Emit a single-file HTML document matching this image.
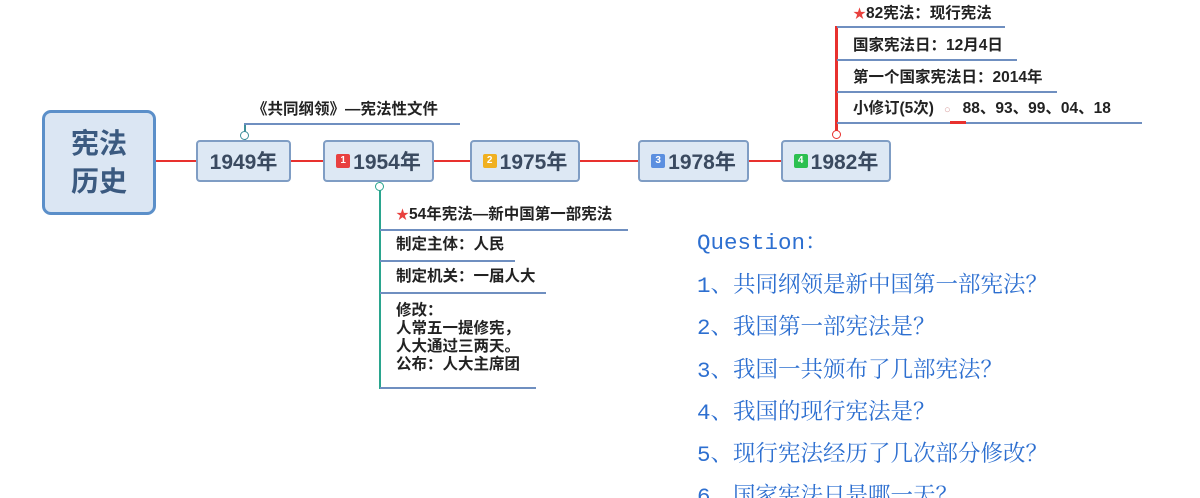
<!DOCTYPE html>
<html><head><meta charset="utf-8"><style>
html,body{margin:0;width:1200px;height:498px;overflow:hidden;background:#fff}
body{position:relative;font-family:"Liberation Sans","Noto Sans CJK SC",sans-serif}
div{position:absolute;box-sizing:border-box}
.n{background:#dde8f4;border:2px solid #7f9dc4;border-radius:4px;color:#3a4a60;font-weight:bold;font-size:21px;display:flex;align-items:center;justify-content:center;height:42px;top:140px}
.r{background:#e8312e;height:2px;top:160px}
.t{font-size:15.5px;font-weight:bold;color:#222;white-space:nowrap;line-height:18px}
.u{height:2px;background:#6f8fc0}
.b{display:inline-block;width:14px;height:14px;border-radius:2px;color:#fff;font-size:10px;line-height:14px;text-align:center;margin-right:3px;vertical-align:2px}
.q{left:697px;font-family:"Liberation Mono","Noto Serif CJK SC",serif;color:#2d6fd0;font-size:22.5px;line-height:26px;white-space:nowrap}
.star{color:#e8413e;font-size:13px}
</style></head><body>
<div style="left:42px;top:110px;width:114px;height:105px;background:#dbe6f3;border:3px solid #5b8fc9;border-radius:9px;color:#3b5a80;font-size:28px;font-weight:bold;line-height:38px;text-align:center;padding-top:12px">宪法<br>历史</div>
<div class="r" style="left:156px;width:40px"></div>
<div class="r" style="left:290px;width:34px"></div>
<div class="r" style="left:433px;width:37px"></div>
<div class="r" style="left:580px;width:58px"></div>
<div class="r" style="left:748px;width:33px"></div>
<div class="n" style="left:196px;width:95px">1949年</div>
<div class="n" style="left:323px;width:111px"><span class="b" style="background:#e84040">1</span>1954年</div>
<div class="n" style="left:470px;width:110px"><span class="b" style="background:#f0b020">2</span>1975年</div>
<div class="n" style="left:638px;width:111px"><span class="b" style="background:#5b8fe0">3</span>1978年</div>
<div class="n" style="left:781px;width:110px"><span class="b" style="background:#2cc050">4</span>1982年</div>

<div style="left:244px;top:124px;width:2px;height:16px;background:#3f8f9a"></div>
<div style="left:244px;top:123px;width:216px;height:2px;background:#6f8fc0"></div>
<div style="left:240px;top:131px;width:9px;height:9px;border:1px solid #3f8f9a;border-radius:50%;background:#fff"></div>
<div class="t" style="left:252px;top:101px">《共同纲领》—宪法性文件</div>

<div style="left:379px;top:186px;width:2px;height:203px;background:#2aa58e"></div>
<div style="left:375px;top:182px;width:9px;height:9px;border:1px solid #2aa58e;border-radius:50%;background:#fff"></div>
<div class="t" style="left:396px;top:206px"><span class="star">★</span>54年宪法—新中国第一部宪法</div>
<div class="u" style="left:380px;top:229px;width:248px"></div>
<div class="t" style="left:396px;top:236px">制定主体：人民</div>
<div class="u" style="left:380px;top:260px;width:135px"></div>
<div class="t" style="left:396px;top:268px">制定机关：一届人大</div>
<div class="u" style="left:380px;top:292px;width:166px"></div>
<div class="t" style="left:396px;top:302px">修改：<br>人常五一提修宪，<br>人大通过三两天。<br>公布：人大主席团</div>
<div class="u" style="left:380px;top:387px;width:156px"></div>

<div style="left:835px;top:26px;width:3px;height:108px;background:#e8312e"></div>
<div style="left:832px;top:130px;width:9px;height:9px;border:1px solid #e8312e;border-radius:50%;background:#fff"></div>
<div class="t" style="left:853px;top:5px"><span class="star">★</span>82宪法：现行宪法</div>
<div class="u" style="left:837px;top:26px;width:168px"></div>
<div class="t" style="left:853px;top:37px">国家宪法日：12月4日</div>
<div class="u" style="left:837px;top:59px;width:180px"></div>
<div class="t" style="left:853px;top:69px">第一个国家宪法日：2014年</div>
<div class="u" style="left:837px;top:91px;width:220px"></div>
<div class="t" style="left:853px;top:100px">小修订(5次)<span style="color:#d8a0a0;font-size:11px;margin:0 12px 0 10px">○</span>88、93、99、04、18</div>
<div class="u" style="left:837px;top:122px;width:305px"></div>
<div style="left:950px;top:121px;width:16px;height:3px;background:#e8312e"></div>

<div class="q" style="top:230px">Question：</div>
<div class="q" style="top:273px">1、共同纲领是新中国第一部宪法？</div>
<div class="q" style="top:315px">2、我国第一部宪法是？</div>
<div class="q" style="top:358px">3、我国一共颁布了几部宪法？</div>
<div class="q" style="top:400px">4、我国的现行宪法是？</div>
<div class="q" style="top:442px">5、现行宪法经历了几次部分修改？</div>
<div class="q" style="top:484px">6、国家宪法日是哪一天？</div>
</body></html>
